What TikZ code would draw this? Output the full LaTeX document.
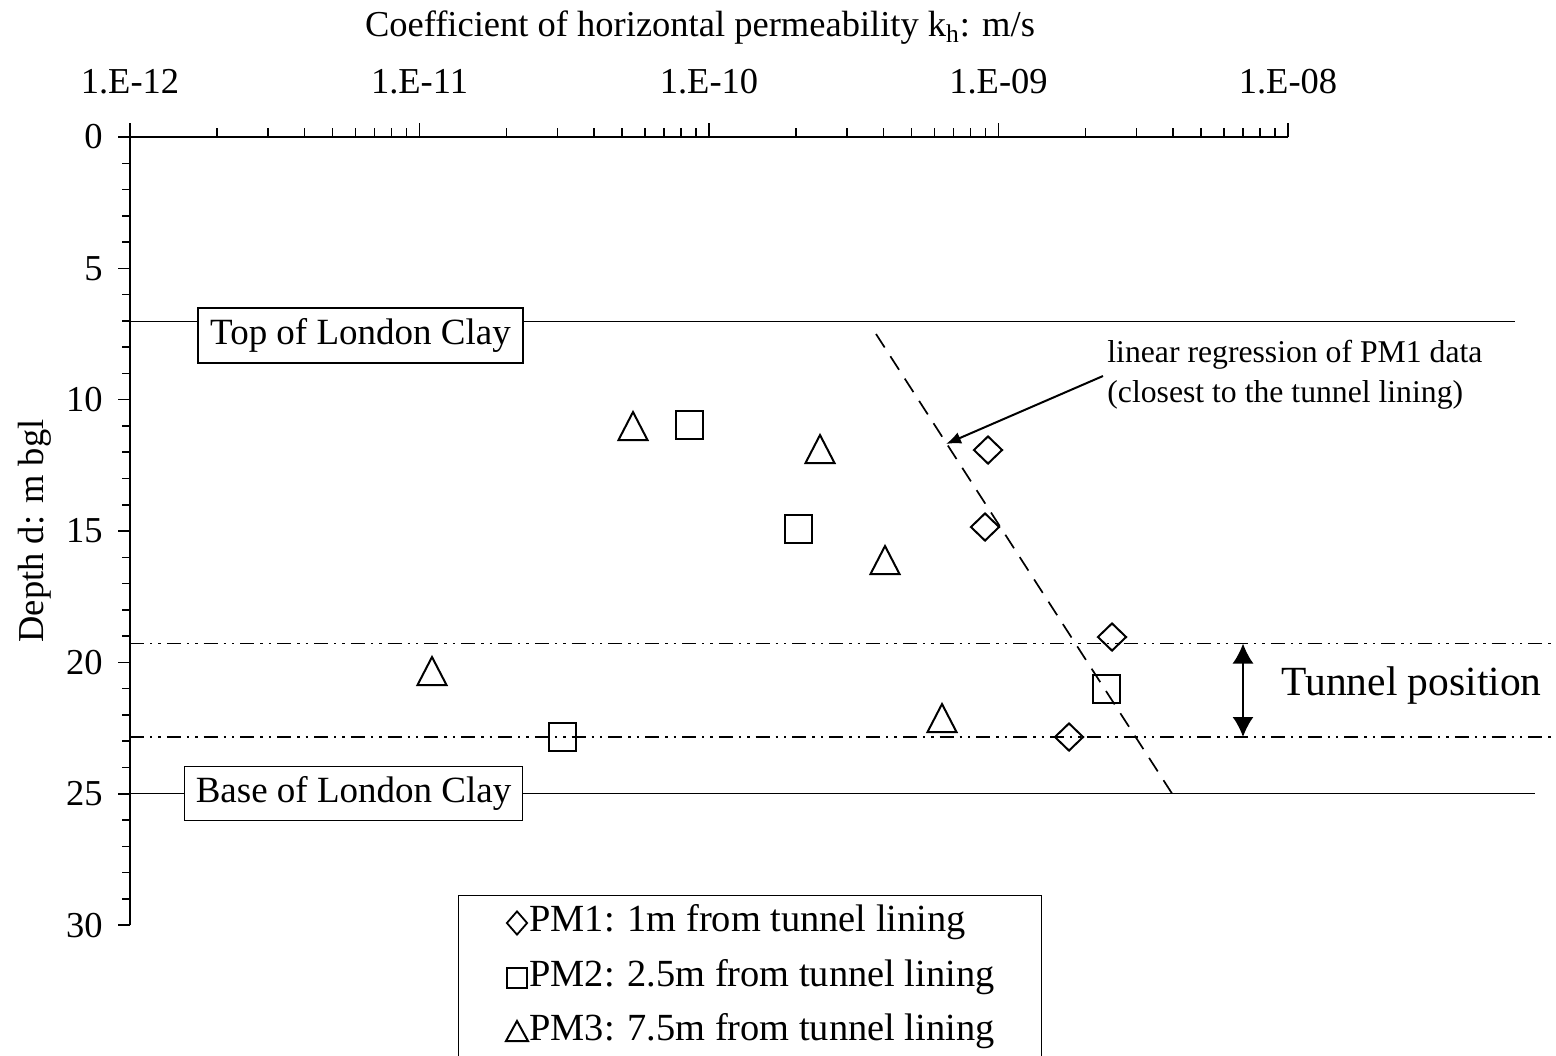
\documentclass[tikz,border=0pt]{standalone}
\usepackage{fontspec}
\setmainfont{Liberation Serif}
\usetikzlibrary{shapes.geometric,arrows.meta}
\newcommand\mytri[3]{\draw[mkline] ([shift={(-#2,#3)}]#1) -- ([shift={(0,-#3)}]#1) -- ([shift={(#2,#3)}]#1) -- cycle;}
\begin{document}
\begin{tikzpicture}[x=0.5pt,y=-0.5pt,
  axis/.style={line width=0.75pt},
  lbl/.style={font=\fontsize{18.25}{21}\selectfont, inner sep=0pt},
  leg/.style={font=\fontsize{19.2}{22}\selectfont, inner sep=0pt, anchor=west},
  mkline/.style={line width=1pt},
  mkD/.style={diamond, draw, line width=1pt, minimum width=14.5pt, minimum height=14pt, inner sep=0pt},
  mkS/.style={rectangle, draw, line width=1pt, minimum width=13.5pt, minimum height=14pt, inner sep=0pt},
  lgD/.style={diamond, draw, line width=0.9pt, minimum width=10.5pt, minimum height=12pt, inner sep=0pt},
  lgS/.style={rectangle, draw, line width=0.9pt, minimum width=10pt, minimum height=10pt, inner sep=0pt},
  claybox/.style={draw, fill=white, line width=0.8pt, inner sep=0pt, font=\fontsize{18.5}{21}\selectfont},
  dashdotdot/.style={line width=0.75pt, dash pattern=on 7pt off 3pt on 1.2pt off 3pt on 1.2pt off 3pt},
  regline/.style={line width=0.85pt, dash pattern=on 8pt off 5.27pt}
]
\useasboundingbox (0,0) rectangle (1556,1055);

% axes
\coordinate (o) at (130,137);
\coordinate (xe) at (1288,137);
\coordinate (ye) at (130,925);
\draw[axis] (xe) -- (o) -- (ye);
\foreach \n in {0,1,2,3}{
  \foreach \m in {2,...,9}{
    \draw[axis] ({130+289.5*(\n+log10(\m))},137) -- ++(0,-9);
  }
  \draw[axis] ({130+289.5*\n},137) -- ++(0,-14);
}
\draw[axis] (1288,137) -- ++(0,-14);
\foreach \d in {1,...,30}{
  \draw[axis] (130,{137+26.27*\d}) -- ++(-8,0);
}
\foreach \d in {0,5,...,30}{
  \draw[axis] (130,{137+26.27*\d}) -- ++(-12,0);
  \node[lbl, anchor=east] (yl\d) at (103,{137+26.27*\d}) {\d};
}
\foreach \n/\t in {0/12,1/11,2/10,3/09,4/08}{
  \node[lbl] (xl\n) at ({130+289.5*\n},82) {1.E-\t};
}
\node[lbl] (title) at (700,28) {Coefficient of horizontal permeability k\textsubscript{h}: m/s};
\node[lbl, rotate=90] (ytitle) at (35,531) {Depth d: m bgl};

% clay lines
\coordinate (topL) at (130,321.5);
\coordinate (topR) at (1515,321.5);
\draw[axis] (topL) -- (topR);
\node[claybox, minimum width=162.5pt, minimum height=27.5pt] (topbox) at (360.5,335.5) {Top of London Clay};
\coordinate (baseL) at (118,793.5);
\coordinate (baseR) at (1535,793.5);
\draw[axis] (baseL) -- (baseR);
\node[claybox, minimum width=169pt, minimum height=27pt] (basebox) at (353.5,793.5) {Base of London Clay};

% tunnel lines
\coordinate (tunTL) at (130,643.5);
\coordinate (tunTR) at (1556,643.5);
\coordinate (tunBL) at (130,737);
\coordinate (tunBR) at (1556,737);
\draw[dashdotdot] (tunTL) -- (tunTR);
\draw[dashdotdot] (tunBL) -- (tunBR);
\coordinate (tA) at (1243,643.5);
\coordinate (tB) at (1243,737);
\draw[line width=1pt, {Latex[length=10pt,width=10.5pt]}-{Latex[length=10pt,width=10.5pt]}] (tA) -- (tB);
\node[font=\fontsize{20.75}{24}\selectfont, inner sep=0pt, anchor=west] (tp) at (1281,686) {Tunnel position};

% regression
\coordinate (regA) at (876,334);
\coordinate (regB) at (1172,793.5);
\draw[regline] (regA) -- (regB);
\node[font=\fontsize{15.85}{20}\selectfont, inner sep=0pt, align=left, anchor=north west] (ann) at (1107,340) {linear regression of PM1 data\\(closest to the tunnel lining)};
\coordinate (annS) at (1103,376);
\coordinate (annT) at (946,444);
\draw[line width=1pt, -{Latex[length=7.5pt,width=6pt]}] (annS) -- (annT);

% PM1
\node[mkD] (d1) at (988,450) {};
\node[mkD] (d2) at (985,527) {};
\node[mkD] (d3) at (1112,637) {};
\node[mkD] (d4) at (1069,737) {};
% PM2
\node[mkS] (s1) at (689,425) {};
\node[mkS] (s2) at (798,529) {};
\node[mkS] (s3) at (1106,689) {};
\node[mkS] (s4) at (562,737) {};
% PM3
\coordinate (t1) at (633,426);
\coordinate (t2) at (820,449);
\coordinate (t3) at (885,560);
\coordinate (t4) at (432,671);
\coordinate (t5) at (942,718);
\foreach \p in {t1,t2,t3,t4,t5}{\mytri{\p}{14.5}{14}}

% legend
\coordinate (lgBL) at (458,1062);
\coordinate (lgTR) at (1041,895);
\draw[line width=0.5pt] (lgBL) |- (lgTR) -- (1041,1062);
\node[lgD] (lg1) at (517,923) {};
\node[lgS] (lg2) at (517,978) {};
\coordinate (lg3) at (517,1031);
\mytri{lg3}{11}{10}
\node[leg] (lt1) at (529,922) {PM1: 1m from tunnel lining};
\node[leg] (lt2) at (529,977) {PM2: 2.5m from tunnel lining};
\node[leg] (lt3) at (529,1031) {PM3: 7.5m from tunnel lining};
\end{tikzpicture}
\end{document}
